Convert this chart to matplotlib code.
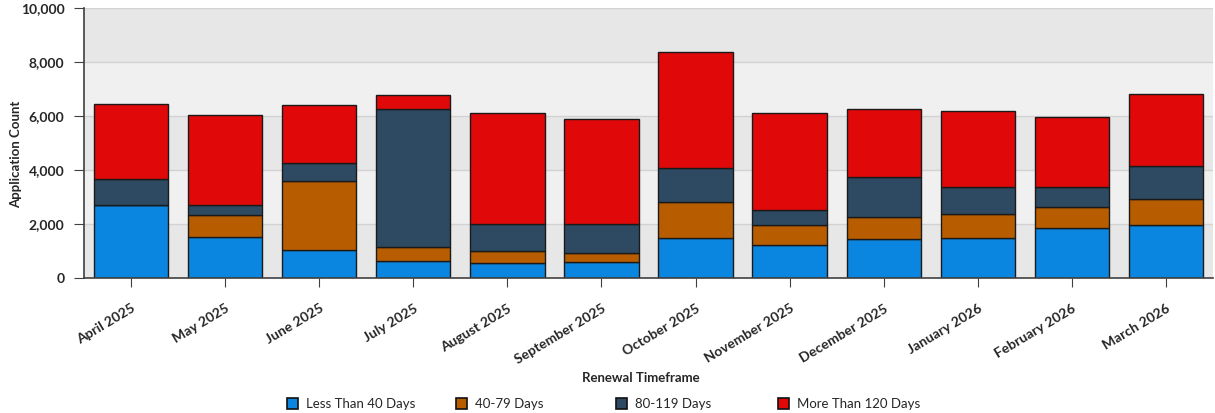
import matplotlib
matplotlib.use("Agg")
import matplotlib.pyplot as plt
from matplotlib.patches import Rectangle
import numpy as np

months = ["April 2025", "May 2025", "June 2025", "July 2025", "August 2025",
          "September 2025", "October 2025", "November 2025", "December 2025",
          "January 2026", "February 2026", "March 2026"]
series_names = ["Less Than 40 Days", "40-79 Days", "80-119 Days", "More Than 120 Days"]
less_40 = [2720, 1520, 1030, 640, 560, 590, 1480, 1240, 1430, 1480, 1850, 1980]
d40_79 = [0, 830, 2560, 500, 430, 350, 1330, 740, 830, 880, 790, 950]
d80_119 = [960, 340, 670, 5130, 1000, 1050, 1260, 550, 1470, 1000, 720, 1230]
more_120 = [2750, 3340, 2130, 490, 4110, 3910, 4290, 3570, 2540, 2840, 2590, 2640]
y_ticks = [0, 2000, 4000, 6000, 8000, 10000]
colors = ["#0a86e0", "#b85c00", "#2e4a62", "#e00808"]

plt.rcParams['font.family'] = ['Lato', 'DejaVu Sans']
text_color = "#262626"

fig = plt.figure(figsize=(12.15, 4.13), dpi=100)
ax = fig.add_axes([84/1215, 1 - 278/413, (1213-84)/1215, 270/413])

# alternating background bands
for i in range(len(y_ticks) - 1):
    ax.axhspan(y_ticks[i], y_ticks[i+1], color="#e7e7e7" if i % 2 == 0 else "#f0f0f0", zorder=0, lw=0)
for t in y_ticks[1:]:
    ax.axhline(t, color="#d2d2d2", lw=1, zorder=0.5)

x = np.arange(len(months))
bottom = np.zeros(len(months))
for vals, c, name in zip([less_40, d40_79, d80_119, more_120], colors, series_names):
    ax.bar(x, vals, bottom=bottom, width=0.79, color=c, edgecolor="#1a1a1a", linewidth=1, zorder=2, label=name)
    bottom += np.array(vals)

ax.set_xlim(-0.5, len(months) - 0.5)
ax.set_ylim(0, 10000)
ax.set_yticks(y_ticks)
ax.set_yticklabels([f"{t:,}" for t in y_ticks])
ax.set_xticks(x)
ax.set_xticklabels(months, rotation=31, ha="right", rotation_mode="anchor")
ax.tick_params(axis="both", direction="out", length=7, color="#404040", labelsize=10, labelcolor=text_color)
ax.tick_params(axis="x", pad=11, length=6.5)
ax.tick_params(axis="y", pad=7)
for lbl in ax.get_xticklabels() + ax.get_yticklabels():
    lbl.set_fontweight("bold")
for s in ["top", "right"]:
    ax.spines[s].set_visible(False)
for s in ["left", "bottom"]:
    ax.spines[s].set_color("#404040")
    ax.spines[s].set_linewidth(1.2)

ax.set_ylabel("Application Count", fontsize=9.5, fontweight="bold", color=text_color)
ax.yaxis.set_label_coords((22 - 84) / 1129, (278 - 154) / 270)

# legend
fig.text(641/1215, 1 - 378/413, "Renewal Timeframe", ha="center", va="center",
         fontsize=9.5, fontweight="bold", color=text_color)
leg_x = [287, 456, 616, 778]
for lx, c, name in zip(leg_x, colors, series_names):
    fig.patches.append(Rectangle((lx/1215, 1 - 409/413), 11/1215, 11/413, transform=fig.transFigure,
                                 facecolor=c, edgecolor="#111111", lw=1.2))
    fig.text((lx + 19)/1215, 1 - 403.5/413, name, ha="left", va="center", fontsize=9.5, color=text_color)

fig.savefig("out.png", dpi=100)
